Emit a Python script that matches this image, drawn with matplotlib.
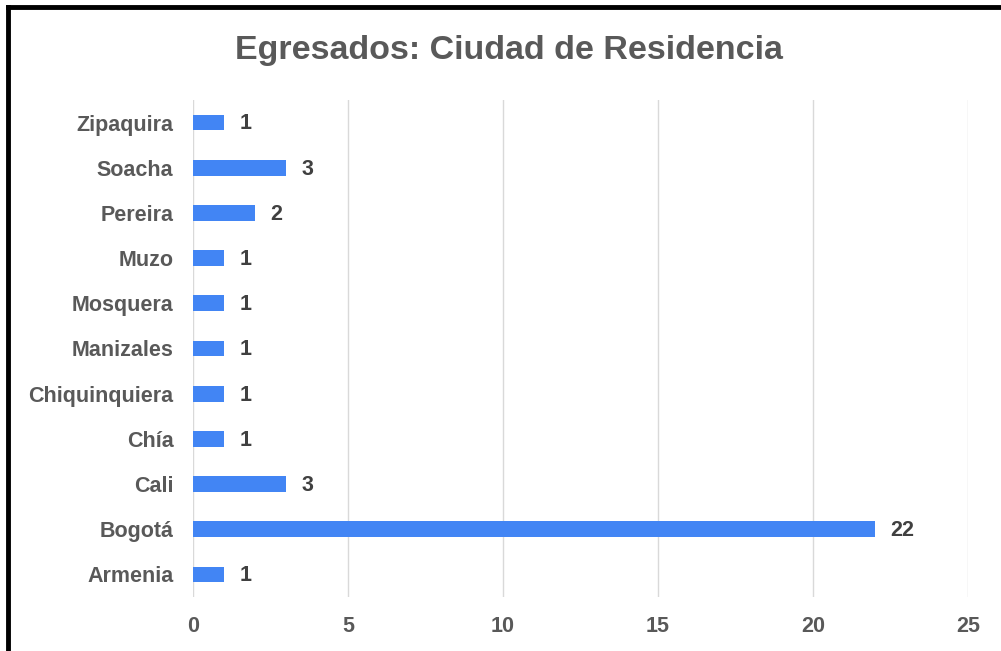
import matplotlib
matplotlib.use('Agg')
import matplotlib.pyplot as plt
from matplotlib.lines import Line2D

cities = ['Armenia', 'Bogotá', 'Cali', 'Chía', 'Chiquinquiera', 'Manizales',
          'Mosquera', 'Muzo', 'Pereira', 'Soacha', 'Zipaquira']
counts = [1, 22, 3, 1, 1, 1, 1, 1, 2, 3, 1]
xticks = [0, 5, 10, 15, 20, 25]

BAR = '#4285F4'
GREY = '#595959'

plt.rcParams['font.family'] = ['Liberation Sans', 'DejaVu Sans']

fig = plt.figure(figsize=(10.01, 6.51), dpi=100, facecolor='white')
ax = fig.add_axes([193/1001, 1 - 597/651, 775/1001, 497/651])

ypos = list(range(len(cities)))
ax.barh(ypos, counts, height=0.35, color=BAR, zorder=3)
for y, v in zip(ypos, counts):
    ax.text(v + 0.5, y - 0.03, str(v), ha='left', va='center', fontsize=15.5,
            fontweight='bold', color='#404040')

ax.set_xlim(0, 25)
ax.set_ylim(-0.5, len(cities) - 0.5)
ax.set_xticks(xticks)
ax.set_xticklabels([str(t) for t in xticks], fontsize=15.5, fontweight='bold', color=GREY)
ax.set_yticks(ypos)
ax.set_yticklabels(cities, fontsize=15.5, fontweight='bold', color=GREY)
ax.tick_params(axis='x', length=0, pad=14)
ax.tick_params(axis='y', length=0, pad=14)
ax.grid(axis='x', color='#d9d9d9', linewidth=1, zorder=0)
for s in ax.spines.values():
    s.set_visible(False)

fig.text(509/1001, 1 - 51/651, 'Egresados: Ciudad de Residencia', ha='center', va='center',
         fontsize=24.5, fontweight='bold', color=GREY)

# black frame on top and left edge
fig.add_artist(Line2D([8/1001, 1], [1 - 7/651, 1 - 7/651], color='black', linewidth=3.5,
                      transform=fig.transFigure))
fig.add_artist(Line2D([8/1001, 8/1001], [0, 1 - 7/651], color='black', linewidth=3.5,
                      transform=fig.transFigure))

fig.savefig('out.png', dpi=100, facecolor='white')
